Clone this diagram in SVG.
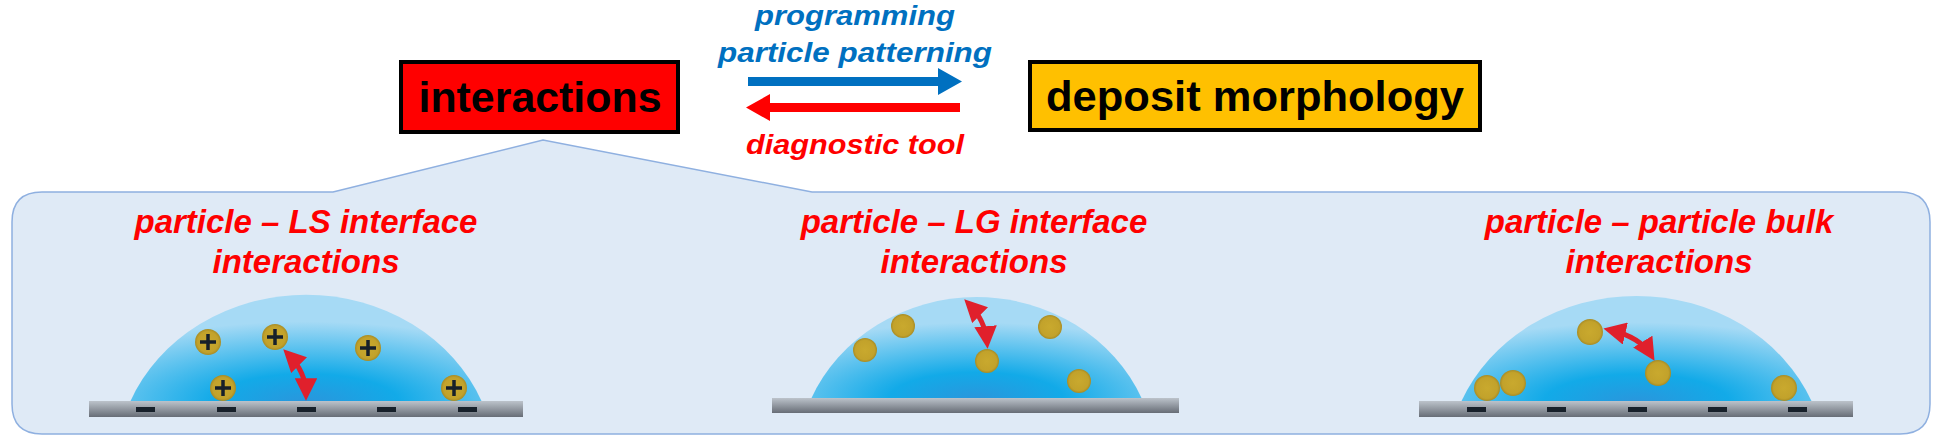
<svg xmlns="http://www.w3.org/2000/svg" width="1934" height="440" viewBox="0 0 1934 440">
<style>
.box{stroke:#000;stroke-width:4}
.bt{font-family:"Liberation Sans",Arial,sans-serif;font-weight:bold;font-size:42px;fill:#000;text-anchor:middle}
.lt{font-family:"Liberation Sans",Arial,sans-serif;font-weight:bold;font-style:italic;font-size:27px;text-anchor:middle}
.tt{font-family:"Liberation Sans",Arial,sans-serif;font-weight:bold;font-style:italic;font-size:33px;fill:#ff0000;text-anchor:middle}
.drop{fill:url(#dg)}
.sub{fill:url(#sg)}
.p{fill:url(#pg)}
.m{fill:#17202a}
.plus{stroke:#17202a;stroke-width:3.5}
.da{fill:none;stroke:#e0202c;stroke-width:5}
</style>
<defs>
<radialGradient id="dg" cx="0.5" cy="1" r="0.75" fx="0.5" fy="1">
<stop offset="0" stop-color="#2a96dc"/>
<stop offset="0.35" stop-color="#12aae8"/>
<stop offset="1" stop-color="#a6daf5"/>
</radialGradient>
<linearGradient id="sg" x1="0" y1="0" x2="0" y2="1">
<stop offset="0" stop-color="#bcc3cb"/>
<stop offset="1" stop-color="#676d76"/>
</linearGradient>
<radialGradient id="pg" cx="0.5" cy="0.5" r="0.5">
<stop offset="0" stop-color="#c9a92e"/>
<stop offset="0.8" stop-color="#c2a22b"/>
<stop offset="1" stop-color="#a88c25"/>
</radialGradient>
<marker id="ah" viewBox="0 0 10 10" refX="7" refY="5" markerWidth="4.5" markerHeight="4.5" orient="auto-start-reverse">
<path d="M0,0 L10,5 L0,10 z" fill="#e0202c"/>
</marker>
</defs>

<path id="panel" d="M42,192 L333,192 L543,140 L812,192 L1900,192 Q1930,192 1930,222 L1930,404 Q1930,434 1900,434 L42,434 Q12,434 12,404 L12,222 Q12,192 42,192 z" fill="#dfeaf6" stroke="#8fb0e0" stroke-width="1.5"/>

<g id="interactions"><rect class="box" x="401" y="62" width="277" height="70" fill="#ff0000"/><text class="bt" x="540" y="112" textLength="243" lengthAdjust="spacingAndGlyphs">interactions</text></g>
<g id="deposit"><rect class="box" x="1030" y="62" width="450" height="68" fill="#ffc000"/><text class="bt" x="1255" y="111" textLength="418" lengthAdjust="spacingAndGlyphs">deposit morphology</text></g>

<g id="connectors">
<path d="M748,77 L938,77 L938,68 L962,81.5 L938,95 L938,86 L748,86 z" fill="#0070c0"/>
<path d="M960,103 L770,103 L770,94 L746,107.5 L770,121 L770,112 L960,112 z" fill="#ff0000"/>
</g>
<text class="lt" x="855" y="25" fill="#0070c0" textLength="200" lengthAdjust="spacingAndGlyphs">programming</text>
<text class="lt" x="855" y="62" fill="#0070c0" textLength="274" lengthAdjust="spacingAndGlyphs">particle patterning</text>
<text class="lt" x="855" y="154" fill="#ff0000" textLength="218" lengthAdjust="spacingAndGlyphs">diagnostic tool</text>

<g id="ls">
<text class="tt" x="306" y="233">particle – LS interface</text>
<text class="tt" x="306" y="273">interactions</text>
<path class="drop" d="M130,402 A190,172 0 0 1 482,402 z"/>
<rect class="sub" x="89" y="401" width="434" height="16"/>
<g class="m"><rect x="136" y="407" width="19" height="5"/><rect x="217" y="407" width="19" height="5"/><rect x="297" y="407" width="19" height="5"/><rect x="377" y="407" width="19" height="5"/><rect x="458" y="407" width="19" height="5"/></g>
<g><circle class="p" cx="208" cy="342" r="13"/><circle class="p" cx="275" cy="337" r="13"/><circle class="p" cx="368" cy="348" r="13"/><circle class="p" cx="223" cy="388" r="13"/><circle class="p" cx="454" cy="388" r="13"/></g>
<path class="plus" d="M200,342h16M208,334v16M267,337h16M275,329v16M360,348h16M368,340v16M215,388h16M223,380v16M446,388h16M454,380v16"/>
<path class="da" d="M288,354 Q306,372 306,394" marker-start="url(#ah)" marker-end="url(#ah)"/>
</g>

<g id="lg">
<text class="tt" x="974" y="233">particle – LG interface</text>
<text class="tt" x="974" y="273">interactions</text>
<path class="drop" d="M811,399 A180,168 0 0 1 1142,399 z"/>
<rect class="sub" x="772" y="398" width="407" height="15"/>
<g><circle class="p" cx="903" cy="326" r="12"/><circle class="p" cx="865" cy="350" r="12"/><circle class="p" cx="1050" cy="327" r="12"/><circle class="p" cx="987" cy="361" r="12"/><circle class="p" cx="1079" cy="381" r="12"/></g>
<path class="da" d="M969,304 Q985,320 987,342" marker-start="url(#ah)" marker-end="url(#ah)"/>
</g>

<g id="pp">
<text class="tt" x="1659" y="233">particle – particle bulk</text>
<text class="tt" x="1659" y="273">interactions</text>
<path class="drop" d="M1461,402 A190,172 0 0 1 1812,402 z"/>
<rect class="sub" x="1419" y="401" width="434" height="16"/>
<g class="m"><rect x="1467" y="407" width="19" height="5"/><rect x="1547" y="407" width="19" height="5"/><rect x="1628" y="407" width="19" height="5"/><rect x="1708" y="407" width="19" height="5"/><rect x="1788" y="407" width="19" height="5"/></g>
<g><circle class="p" cx="1487" cy="388" r="13"/><circle class="p" cx="1513" cy="383" r="13"/><circle class="p" cx="1590" cy="332" r="13"/><circle class="p" cx="1658" cy="373" r="13"/><circle class="p" cx="1784" cy="388" r="13"/></g>
<path class="da" d="M1610,330 Q1640,337 1651,355" marker-start="url(#ah)" marker-end="url(#ah)"/>
</g>
</svg>
